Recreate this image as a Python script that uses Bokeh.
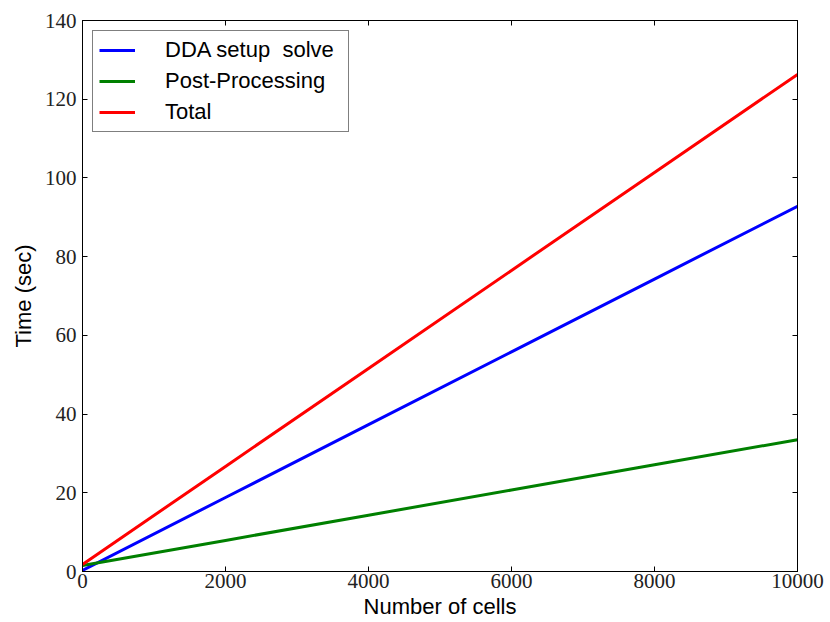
from bokeh.plotting import figure
from bokeh.models import (Range1d, FixedTicker, LinearAxis, Legend, LegendItem,
                          CustomLabelingPolicy)
from bokeh.embed import file_html
from bokeh.resources import INLINE

cells = [0, 2000, 4000, 6000, 8000, 10000]
dda = [0.3, 18.8, 37.3, 55.8, 74.3, 92.8]
post = [1.5, 7.9, 14.3, 20.7, 27.1, 33.5]
total = [1.8, 26.7, 51.6, 76.5, 101.4, 126.3]

x_ticks = [0, 2000, 4000, 6000, 8000, 10000]
y_ticks = [0, 20, 40, 60, 80, 100, 120, 140]

p = figure(width=830, height=622, output_backend="svg", toolbar_location=None,
           x_range=Range1d(0, 10000), y_range=Range1d(0, 140),
           min_border_left=82, min_border_right=33, min_border_top=20, min_border_bottom=51)
p.grid.visible = False
p.outline_line_color = "black"
p.outline_line_width = 1
p.background_fill_color = "white"
p.border_fill_color = "white"

r1 = p.line(cells, dda, line_color="#0000ff", line_width=3)
r2 = p.line(cells, post, line_color="#008000", line_width=3)
r3 = p.line(cells, total, line_color="#ff0000", line_width=3)

serif = "Liberation Serif"
sans = "Liberation Sans"

for ax, ticks in ((p.xaxis[0], x_ticks), (p.yaxis[0], y_ticks)):
    ax.ticker = FixedTicker(ticks=ticks)
    ax.major_tick_in = 5
    ax.major_tick_out = 0
    ax.minor_tick_line_color = None
    ax.axis_line_color = "black"
    ax.major_tick_line_color = "black"
    ax.major_label_text_font = serif
    ax.major_label_text_font_size = "21px"
    ax.major_label_text_color = "#222222"
    ax.axis_label_text_font = sans
    ax.axis_label_text_font_size = "22px"
    ax.axis_label_text_font_style = "normal"
    ax.axis_label_text_color = "black"

p.xaxis[0].axis_label = "Number of cells"
p.yaxis[0].axis_label = "Time (sec)"
p.xaxis[0].major_label_standoff = 2
p.yaxis[0].major_label_standoff = 6
p.xaxis[0].axis_label_standoff = 3
p.yaxis[0].axis_label_standoff = 6

no_labels = CustomLabelingPolicy(code="for (const i of indices) indices.unset(i)")
top = LinearAxis(ticker=FixedTicker(ticks=x_ticks))
right = LinearAxis(ticker=FixedTicker(ticks=y_ticks))
for ax in (top, right):
    ax.major_tick_in = 5
    ax.major_tick_out = 0
    ax.minor_tick_line_color = None
    ax.major_label_policy = no_labels
    ax.major_label_standoff = 0
    ax.axis_line_color = "black"
p.add_layout(top, "above")
p.add_layout(right, "right")

legend = Legend(items=[
    LegendItem(label="DDA setup  solve", renderers=[r1]),
    LegendItem(label="Post-Processing", renderers=[r2]),
    LegendItem(label="Total", renderers=[r3]),
], location="top_left")
legend.label_text_font = sans
legend.label_text_font_size = "22px"
legend.label_text_color = "black"
legend.glyph_width = 36
legend.glyph_height = 20
legend.label_standoff = 30
legend.label_width = 177
legend.padding = 6
legend.spacing = 5
legend.margin = 10
legend.border_line_color = "black"
legend.border_line_width = 1
legend.background_fill_alpha = 1
p.add_layout(legend, "center")

open("out.html", "w").write(file_html(p, INLINE))
